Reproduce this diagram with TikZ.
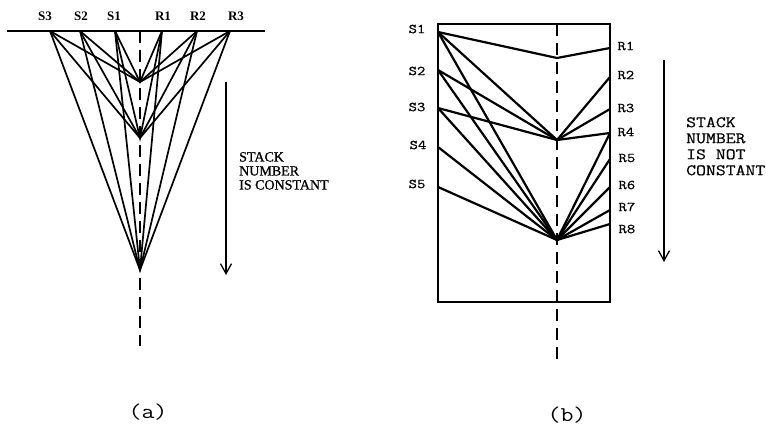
\documentclass[tikz,border=0pt]{standalone}
\usepackage{fontspec}
\setmainfont{Liberation Serif}
\newfontfamily\cour{Latin Modern Mono}[FakeStretch=1.2,FakeBold=0.6]
\newfontfamily\courlight{Latin Modern Mono}[FakeStretch=1.2]
\newfontfamily\serifheavy{Liberation Serif}[FakeBold=0.8]
\usetikzlibrary{arrows.meta}
\begin{document}
\begin{tikzpicture}[x=1pt,y=-1pt,
  rayA/.style={line width=1.7pt},
  rayB/.style={line width=2.2pt},
  frame/.style={line width=1.9pt},
  axis/.style={line width=1.6pt, dash pattern=on 12pt off 7pt},
  downarrow/.style={line width=1.3pt, -{Straight Barb[length=10pt,width=11pt,line width=1.3pt]}},
  labA/.style={font=\fontsize{13}{14}\selectfont\bfseries},
  labB/.style={font=\cour\fontsize{13.5}{15}\selectfont},
  capt/.style={font=\courlight\fontsize{21}{24}\selectfont}]
\useasboundingbox (0,0) rectangle (766,425);

% ---------- panel (a) ----------
\coordinate (aL) at (7,31);
\coordinate (aRt) at (265,31);
\coordinate (aS3) at (50,31);
\coordinate (aS2) at (80,31);
\coordinate (aS1) at (115,31);
\coordinate (aR1) at (162,31);
\coordinate (aR2) at (197,31);
\coordinate (aR3) at (230,31);
\coordinate (aP1) at (140,82);
\coordinate (aP2) at (140,138);
\coordinate (aP3) at (140,270);
\coordinate (aTop) at (140,31);
\coordinate (aBot) at (140,346);
\coordinate (aArT) at (226,82);
\coordinate (aArB) at (226,275);

\draw[frame] (aL) -- (aRt);
\draw[axis] (aTop) -- (aBot);
\foreach \i in {1,2,3}{
  \foreach \j in {1,2,3}{
    \draw[rayA] (aS\i) -- (aP\j) -- (aR\i);
  }
}
\draw[downarrow] (aArT) -- (aArB);

\node[labA] (laS3) at (45,16) {S3};
\node[labA] (laS2) at (81,16) {S2};
\node[labA] (laS1) at (114,16) {S1};
\node[labA] (laR1) at (163,16) {R1};
\node[labA] (laR2) at (198,16) {R2};
\node[labA] (laR3) at (236,16) {R3};
\node[anchor=north west, inner sep=0pt, align=left,
      font=\serifheavy\fontsize{14}{14}\selectfont] (atext) at (239,152)
      {STACK\\NUMBER\\IS CONSTANT};
\node[capt] (capa) at (148,412) {(a)};

% ---------- panel (b) ----------
\coordinate (bTL) at (438,24);
\coordinate (bBR) at (610,302);
\coordinate (bTop) at (557,24);
\coordinate (bBot) at (557,360);
\coordinate (bS1) at (438,32);
\coordinate (bS2) at (438,70);
\coordinate (bS3) at (438,108);
\coordinate (bS4) at (438,147);
\coordinate (bS5) at (438,187);
\coordinate (bR1) at (610,48);
\coordinate (bR2) at (610,77);
\coordinate (bR3) at (610,109);
\coordinate (bR4) at (610,133);
\coordinate (bR5) at (610,159);
\coordinate (bR6) at (610,187);
\coordinate (bR7) at (610,210);
\coordinate (bR8) at (610,224);
\coordinate (bP1) at (557,58);
\coordinate (bP2) at (557,140);
\coordinate (bP3) at (557,240);
\coordinate (bArT) at (664,60);
\coordinate (bArB) at (664,262);

\draw[frame] (bTL) rectangle (bBR);
\draw[axis] (bTop) -- (bBot);
\draw[rayB] (bS1) -- (bP1) -- (bR1);
\foreach \s in {1,2,3}{ \draw[rayB] (bS\s) -- (bP2); }
\foreach \r in {2,3,4}{ \draw[rayB] (bP2) -- (bR\r); }
\foreach \s in {1,2,3,4,5}{ \draw[rayB] (bS\s) -- (bP3); }
\foreach \r in {4,5,6,7,8}{ \draw[rayB] (bP3) -- (bR\r); }
\draw[downarrow] (bArT) -- (bArB);

\node[labB] (lbS1) at (417,29) {S1};
\node[labB] (lbS2) at (417,71) {S2};
\node[labB] (lbS3) at (417,107) {S3};
\node[labB] (lbS4) at (418,145) {S4};
\node[labB] (lbS5) at (417,184) {S5};
\node[labB, anchor=west] (lbR1) at (614,46) {R1};
\node[labB, anchor=west] (lbR2) at (614,75) {R2};
\node[labB, anchor=west] (lbR3) at (614,108) {R3};
\node[labB, anchor=west] (lbR4) at (614,132) {R4};
\node[labB, anchor=west] (lbR5) at (615,158) {R5};
\node[labB, anchor=west] (lbR6) at (615,185) {R6};
\node[labB, anchor=west] (lbR7) at (615,207) {R7};
\node[labB, anchor=west] (lbR8) at (615,229) {R8};
\node[anchor=north west, inner sep=0pt, align=left,
      font=\cour\fontsize{16}{16}\selectfont] (btext) at (686,117)
      {STACK\\NUMBER\\IS NOT\\CONSTANT};
\node[capt] (capb) at (567,415) {(b)};
\end{tikzpicture}
\end{document}
